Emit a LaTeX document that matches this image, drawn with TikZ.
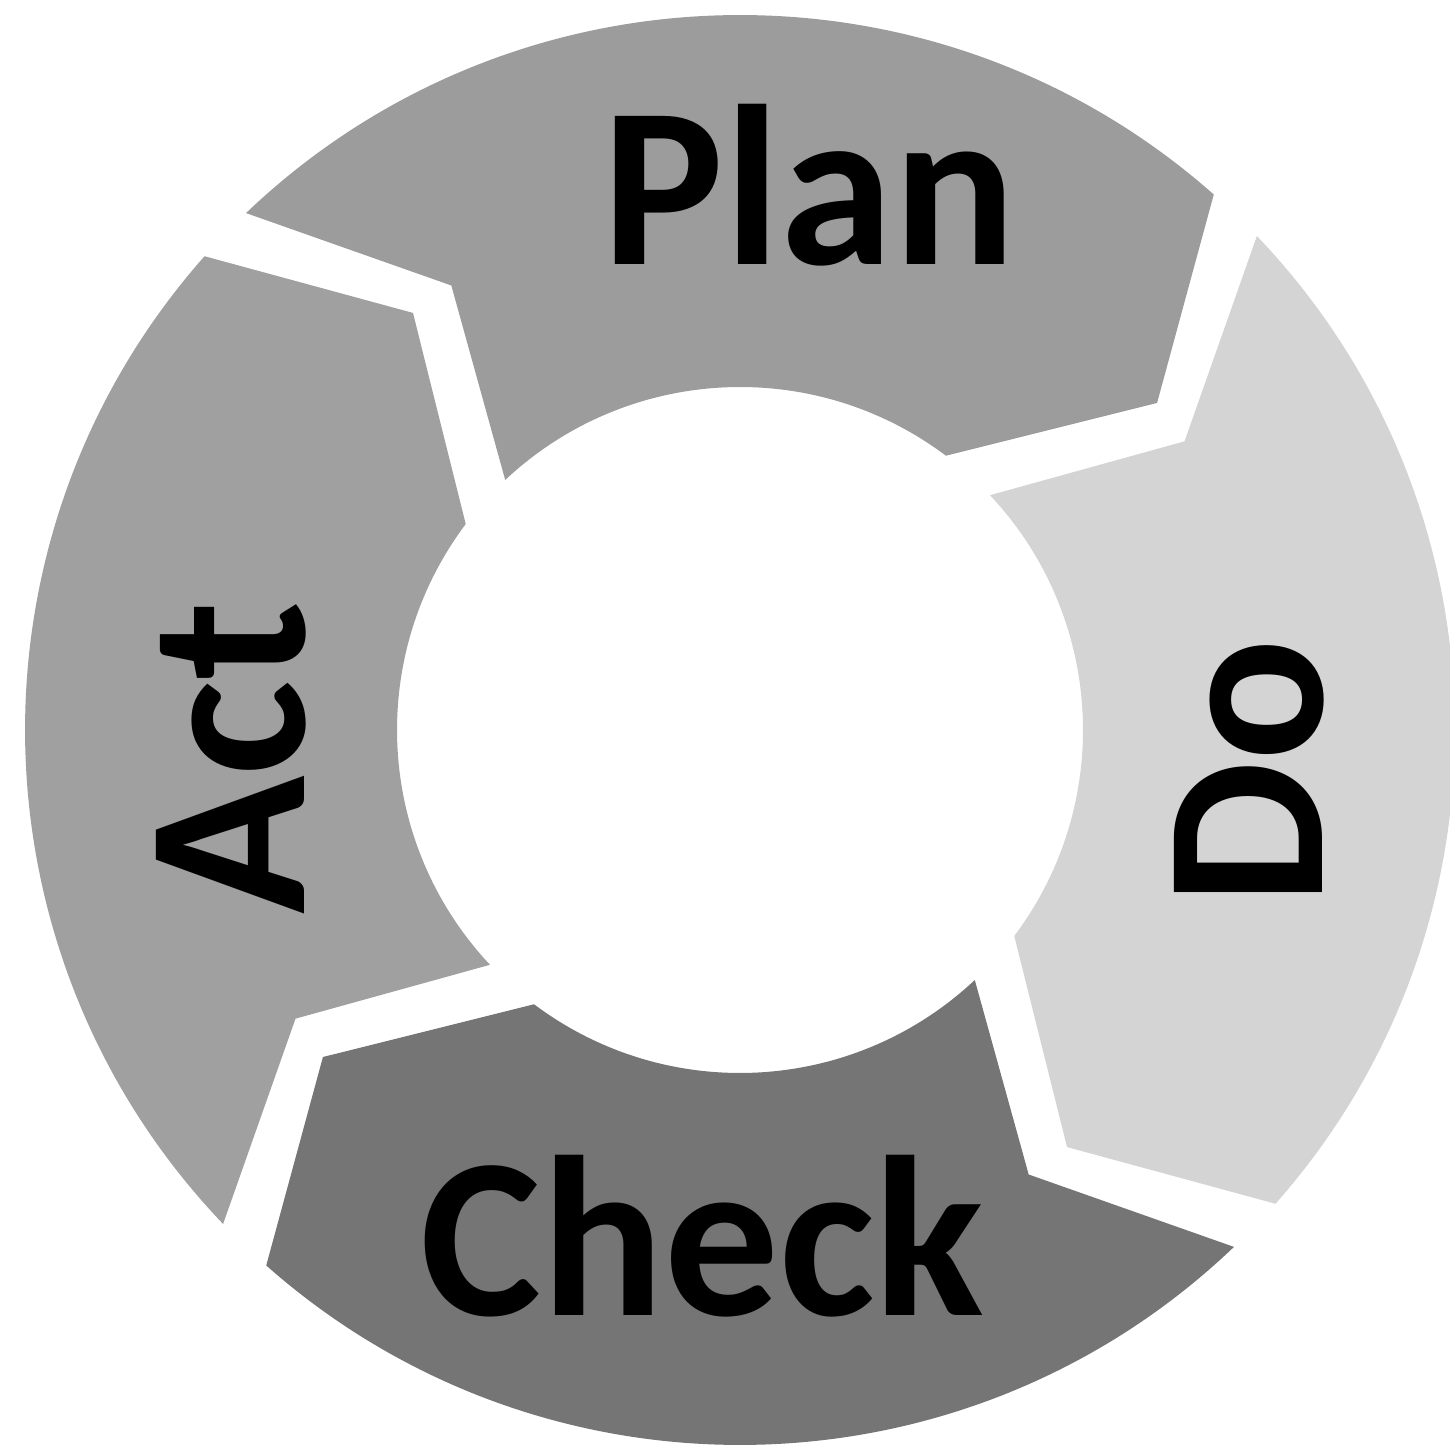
\documentclass[tikz,border=0pt]{standalone}
\usepackage{fontspec}
\setmainfont{Carlito}
\usetikzlibrary{positioning}

\definecolor{plangray}{HTML}{9C9C9C}
\definecolor{dogray}{HTML}{D4D4D4}
\definecolor{checkgray}{HTML}{757575}
\definecolor{actgray}{HTML}{A0A0A0}

\begin{document}
\begin{tikzpicture}[
    every node/.style={font=\fontsize{65}{65}\selectfont\bfseries, text=black, inner sep=0pt},
    stagelabel/.style={anchor=base},
]

% === Canvas ===
\useasboundingbox (-7.40,-7.14) rectangle (7.10,7.30);

% === Ring dimensions ===
\def\Rout{7.15}     % outer radius
\def\Rin{3.43}      % inner radius
\def\Rmid{5.3}      % radius of arrow tip / notch

% === Four chevron segments (clockwise), \b = angle of the head corner before each segment ===
\foreach \b/\col in {138.5/plangray, 48.5/dogray, -41.5/checkgray, -131.5/actgray} {
    \fill[\col]
        ({\b-4.8}:\Rout)                                                   % tail, outer corner
        arc[start angle={\b-4.8}, end angle={\b-90}, radius=\Rout]          % outer rim
        -- ({\b-100.4}:\Rmid)                                              % arrow tip
        -- ({\b-85.4}:\Rin)                                                % head, inner corner
        arc[start angle={\b-85.4}, end angle={\b-5.3}, radius=\Rin]         % inner rim
        -- ({\b-15.5}:\Rmid)                                               % tail notch
        -- cycle;
}

% === Labels ===
\node[stagelabel] (plan) at (0.69,4.65) {Plan};
\node[stagelabel, rotate=90] (do) at (5.82,-0.42) {Do};
\node[stagelabel] (check) at (-0.375,-5.85) {Check};
\node[stagelabel, rotate=90] (act) at (-4.35,-0.28) {Act};

\end{tikzpicture}
\end{document}
